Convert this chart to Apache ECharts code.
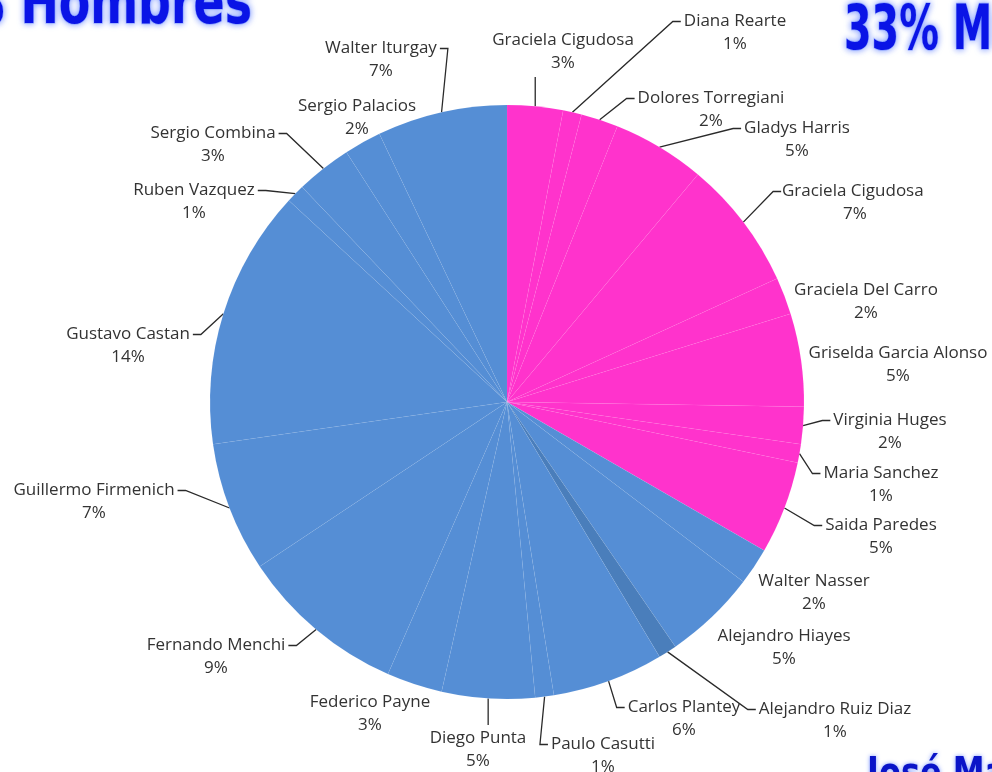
<!DOCTYPE html>
<html>
<head>
<meta charset="utf-8">
<script src="https://cdn.jsdelivr.net/npm/echarts@6/dist/echarts.min.js"></script>
<style>
html,body{margin:0;padding:0;background:#ffffff;}
#chart{width:992px;height:772px;}
</style>
</head>
<body>
<div id="chart"></div>
<script>
// ---- data ----
const womenNames = ['Graciela Cigudosa','Diana Rearte','Dolores Torregiani','Gladys Harris','Graciela Cigudosa ','Graciela Del Carro','Griselda Garcia Alonso','Virginia Huges','Maria Sanchez','Saida Paredes'];
const womenValues = [3,1,2,5,7,2,5,2,1,5];
const menNames = ['Walter Nasser','Alejandro Hiayes','Alejandro Ruiz Diaz','Carlos Plantey','Paulo Casutti','Diego Punta','Federico Payne','Fernando Menchi','Guillermo Firmenich','Gustavo Castan','Ruben Vazquez','Sergio Combina','Sergio Palacios','Walter Iturgay'];
const menValues = [2,5,1,6,1,5,3,9,7,14,1,3,2,7];
const headingLeft = '66% Hombres';
const headingRight = '33% Mujeres';
const footerText = 'José María';

// ---- styling / layout (not data) ----
const PINK = '#FF33CC', BLUE = '#558ED5', DARK = '#4A7EBB';
const darkName = 'Alejandro Ruiz Diaz';
const FONT_SIZE = 17, LINE_H = 23, FONT_FAMILY = '"Open Sans"';
// label block centres, in slice order (clockwise from 12 o'clock)
const labelCenters = [
  [563,52],[735,33],[711,110],[797,140],[855,203],[866,302],[898,365],[890,432],[881,485],[881,537],
  [814,593],[784,648],[835,721],[684,719],[603,756],[478,750],[370,714],[216,657],[94,502],[128,346],
  [194,202],[213,145],[357,118],[381,60]
];

const data = [];
womenNames.forEach((n,i)=>data.push({name:n, value:womenValues[i], itemStyle:{color:PINK}}));
menNames.forEach((n,i)=>data.push({name:n, value:menValues[i], itemStyle:{color: n===darkName ? DARK : BLUE}}));

const measureCtx = document.createElement('canvas').getContext('2d');
measureCtx.font = FONT_SIZE + 'px ' + FONT_FAMILY;
function textW(s){ return measureCtx.measureText(s.trim()).width; }

const headFont = 'bold 62px "DejaVu Sans", sans-serif';
const headStyle = {fill:'#0A14E6', textShadowColor:'rgba(110,140,255,0.95)', textShadowBlur:6, stroke:'rgba(150,170,255,0.7)', lineWidth:1.5};

const chart = echarts.init(document.getElementById('chart'), null, {renderer:'canvas'});
chart.setOption({
  backgroundColor:'#ffffff',
  animation:false,
  graphic:[
    {type:'text', x:252, y:38, scaleX:0.74, style:Object.assign({text:headingLeft, align:'right', verticalAlign:'bottom', font:headFont}, headStyle)},
    {type:'text', x:844, y:2, scaleX:0.64, style:Object.assign({text:headingRight, align:'left', verticalAlign:'top', font:headFont}, headStyle)},
    {type:'text', x:867, y:756, scaleX:0.8, style:{text:footerText, align:'left', verticalAlign:'top', font:'bold 40px "DejaVu Sans", sans-serif', fill:'#0A14C8', textShadowColor:'rgba(110,140,255,0.9)', textShadowBlur:4}}
  ],
  series:[{
    type:'pie',
    center:[507,402],
    radius:297,
    startAngle:90,
    clockwise:true,
    avoidLabelOverlap:false,
    emphasis:{disabled:true},
    itemStyle:{borderColor:'rgba(255,255,255,0.07)', borderWidth:0.6},
    label:{
      show:true,
      position:'outside',
      formatter:'{b}\n{c}%',
      width:320,
      overflow:'none',
      align:'center',
      fontFamily:'Open Sans',
      fontSize:FONT_SIZE,
      lineHeight:LINE_H,
      color:'#333333'
    },
    labelLine:{show:true, length:10, length2:10, lineStyle:{color:'#2a2a2a', width:1.3}},
    labelLayout:function(p){
      const c = labelCenters[p.dataIndex];
      const res = {x:c[0], y:c[1], align:'center', verticalAlign:'middle'};
      const w = textW(data[p.dataIndex].name);
      const h = LINE_H*2;
      const rx = c[0]-w/2, ry = c[1]-h/2;
      const pts = p.labelLinePoints;
      if (pts && pts.length){
        const a = pts[0];
        const dx = Math.max(rx - a[0], 0, a[0] - (rx+w));
        const dy = Math.max(ry - a[1], 0, a[1] - (ry+h));
        if (Math.hypot(dx,dy) < 15){
          res.labelLinePoints = [a.slice(), a.slice(), a.slice()];
        } else if (a[0] >= rx && a[0] <= rx+w){
          const ey = a[1] < ry ? ry - 2 : ry + h + 2;
          res.labelLinePoints = [a.slice(), [a[0], ey], [a[0], ey]];
        } else {
          const nameY = ry + LINE_H/2;
          const left = a[0] < rx;
          const ex = left ? rx - 3 : rx + w + 3;
          const bx = left ? ex - 8 : ex + 8;
          res.labelLinePoints = [a.slice(), [bx, nameY], [ex, nameY]];
        }
      }
      return res;
    },
    data:data
  }]
});
</script>
</body>
</html>
